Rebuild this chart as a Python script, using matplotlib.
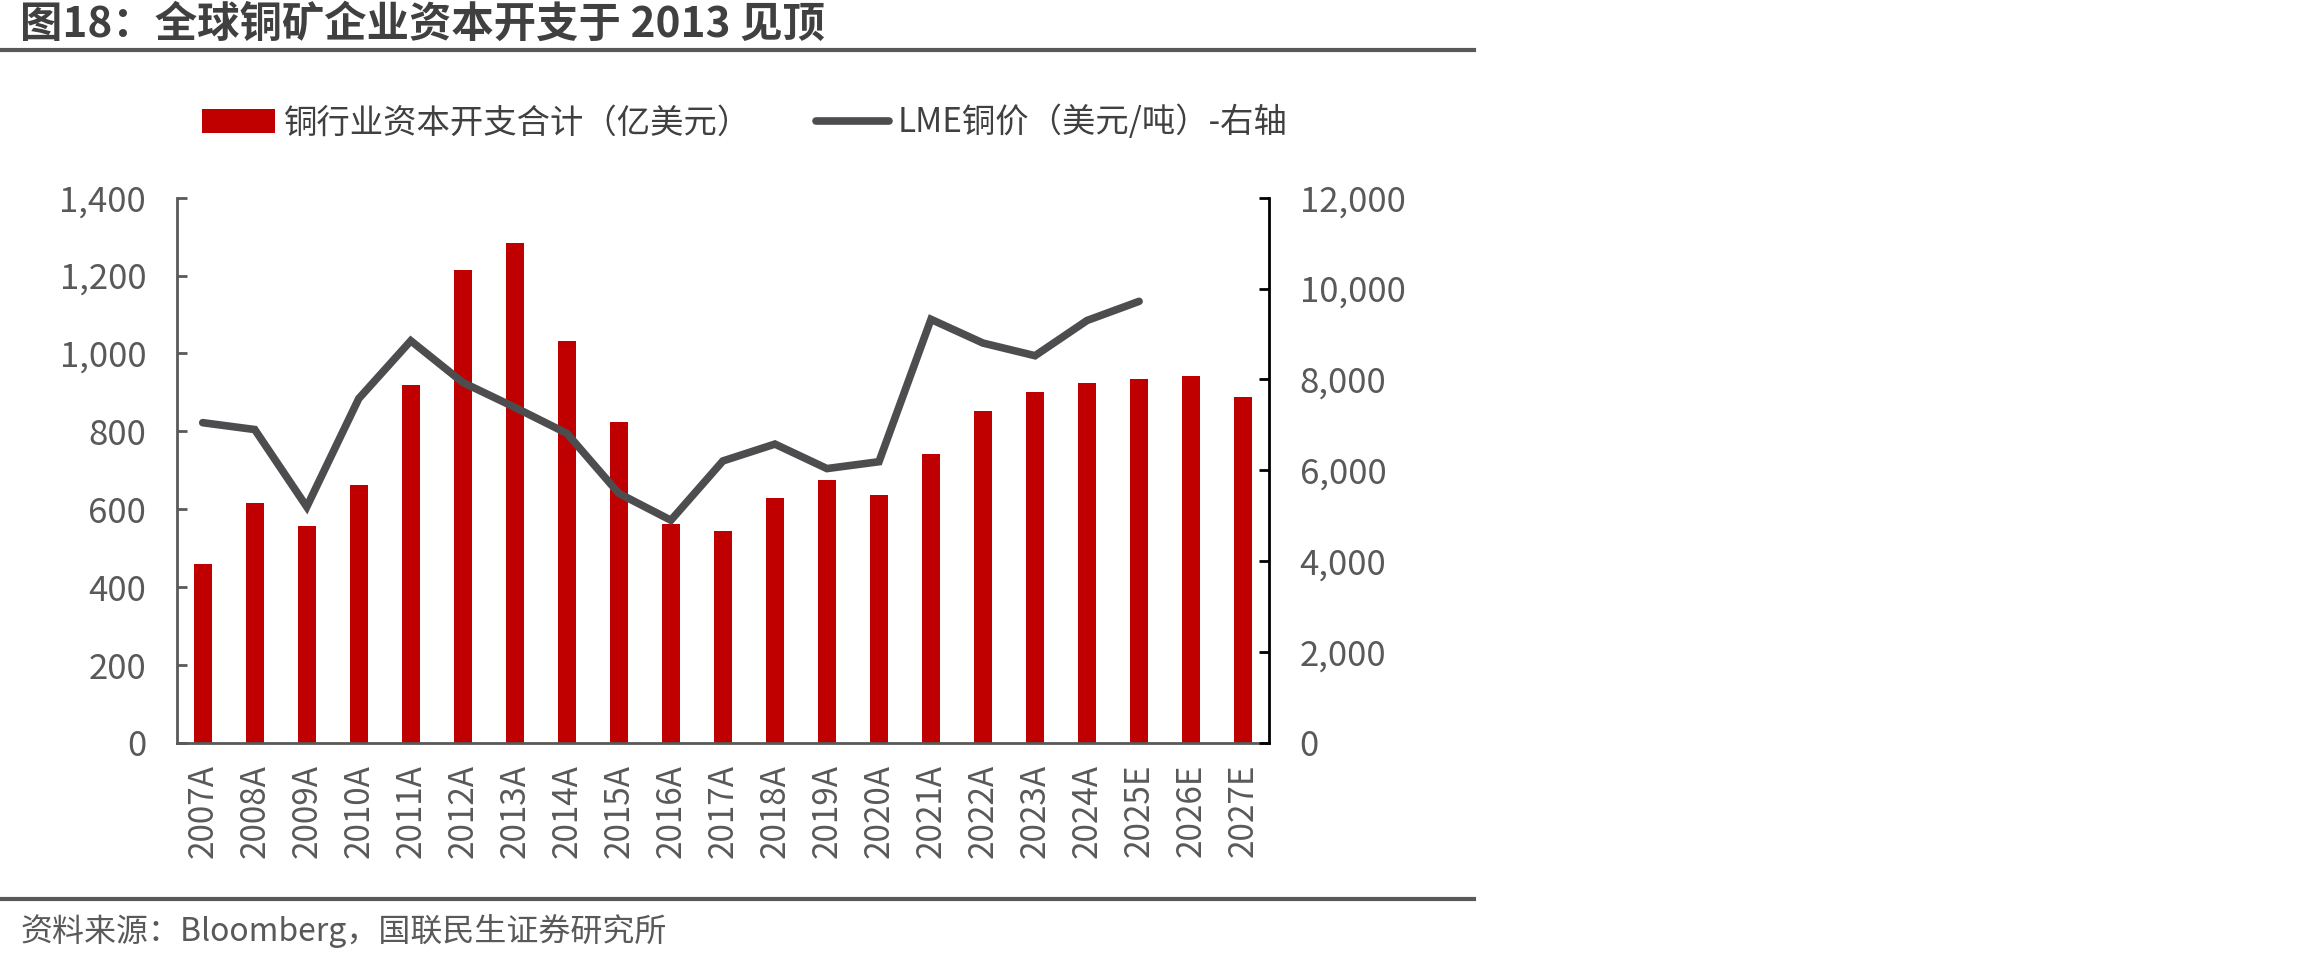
import matplotlib
matplotlib.use('Agg')
import matplotlib.pyplot as plt
from matplotlib.lines import Line2D

plt.rcParams['font.family'] = ['Noto Sans CJK SC', 'DejaVu Sans']

# data
years = ['2007A', '2008A', '2009A', '2010A', '2011A', '2012A', '2013A', '2014A',
         '2015A', '2016A', '2017A', '2018A', '2019A', '2020A', '2021A', '2022A',
         '2023A', '2024A', '2025E', '2026E', '2027E']
capex = [459, 615, 558, 661, 918, 1213, 1283, 1033, 825, 561, 545, 628, 674,
         636, 743, 851, 902, 925, 935, 943, 889]
lme_price = [7048, 6897, 5196, 7579, 8851, 7933, 7385, 6813, 5491, 4901, 6206,
             6577, 6038, 6189, 9322, 8800, 8522, 9297, 9718]

left_ticks = [0, 200, 400, 600, 800, 1000, 1200, 1400]
right_ticks = [0, 2000, 4000, 6000, 8000, 10000, 12000]

red = '#C00000'
dark = '#4D4D4F'
grey = '#595959'

fig = plt.figure(figsize=(23.1, 9.6), dpi=100)
ax = fig.add_axes([0.0765, 0.2261, 0.4729, 0.568])

x = list(range(len(years)))
bars = ax.bar(x, capex, width=0.35, color=red, label='铜行业资本开支合计（亿美元）')
ax.set_xlim(-0.5, len(years) - 0.5)
ax.set_ylim(0, 1400)
ax.set_yticks(left_ticks)
ax.set_yticklabels([f'{v:,}' for v in left_ticks])
ax.set_xticks(x)
ax.set_xticklabels(years, rotation=90)

ax2 = ax.twinx()
line, = ax2.plot(range(len(lme_price)), lme_price, color=dark, lw=5.5,
                 solid_capstyle='round', solid_joinstyle='miter',
                 label='LME铜价（美元/吨）-右轴')
ax2.set_ylim(0, 12000)
ax2.set_yticks(right_ticks)
ax2.set_yticklabels([f'{v:,}' for v in right_ticks])

for a in (ax, ax2):
    a.spines['top'].set_visible(False)
ax.spines['right'].set_visible(False)
ax2.spines['left'].set_visible(False)
ax2.spines['bottom'].set_visible(False)
ax.spines['left'].set_color(grey)
ax.spines['bottom'].set_color(grey)
ax.spines['left'].set_linewidth(2)
ax.spines['bottom'].set_linewidth(2)
ax2.spines['right'].set_color('black')
ax2.spines['right'].set_linewidth(2)

ax.tick_params(axis='y', direction='in', length=7, width=2, color=grey,
               labelsize=25, labelcolor=grey, pad=22)
ax.tick_params(axis='x', length=0, labelsize=24, labelcolor=grey, pad=15)
ax2.tick_params(axis='y', direction='in', length=7, width=2, color='black',
                labelsize=25, labelcolor=grey, pad=22)

fig.legend(handles=[bars, line], loc='center left',
           bbox_to_anchor=(202 / 2310, 1 - 123 / 960), ncol=2, frameon=False,
           fontsize=24, labelcolor='#404040', handlelength=2.2,
           handletextpad=0.25, columnspacing=1.95, borderpad=0, borderaxespad=0)

# title and rules
fig.text(20 / 2310, 1 - 25 / 960, '图18：全球铜矿企业资本开支于 2013 见顶',
         fontsize=30.5, fontweight='bold', color='#404040', va='center', ha='left')
fig.add_artist(Line2D([0, 1474 / 2310], [1 - 50 / 960, 1 - 50 / 960],
                      color=grey, lw=3))
fig.add_artist(Line2D([0, 1474 / 2310], [1 - 899 / 960, 1 - 899 / 960],
                      color=grey, lw=3))
fig.text(20 / 2310, 1 - 931 / 960, '资料来源：Bloomberg，国联民生证券研究所',
         fontsize=23, color=grey, va='center', ha='left')

fig.savefig('out.png', dpi=100)
